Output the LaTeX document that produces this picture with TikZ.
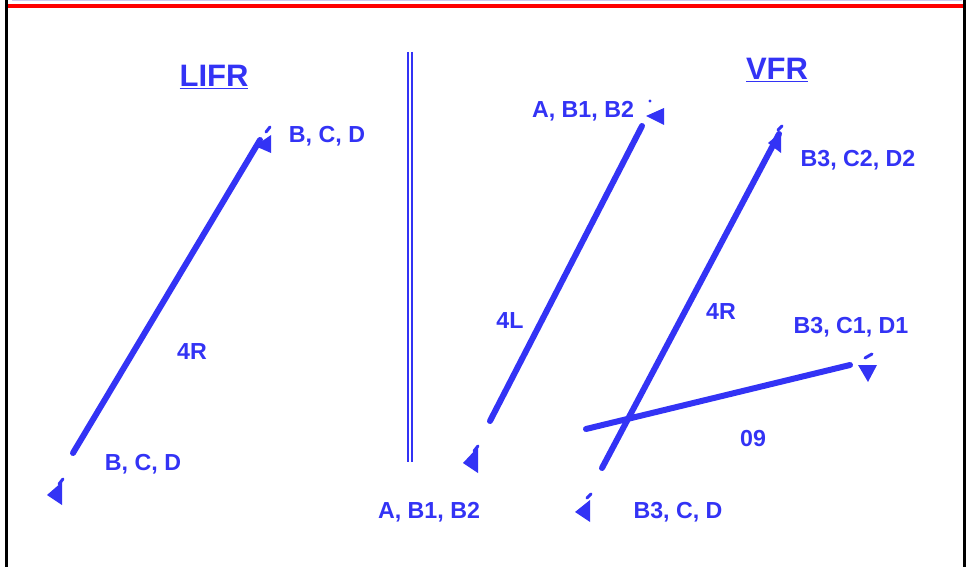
\documentclass[tikz,border=0pt]{standalone}
\usepackage{fontspec}
\setmainfont{Liberation Sans}
\usetikzlibrary{calc}
\definecolor{rwyblue}{HTML}{3333F5}
\definecolor{framered}{HTML}{FF0000}
\definecolor{lavender}{HTML}{CCCCF0}
\tikzset{
  rwy/.style={line width=6pt,rwyblue,line cap=round},
  endtick/.style={line width=3pt,rwyblue,line cap=round},
  endmark/.style={fill=rwyblue,draw=none},
  lbl/.style={text=rwyblue,font=\fontsize{23.2}{27}\selectfont\bfseries,inner sep=0pt},
  ttl/.style={text=rwyblue,font=\fontsize{31}{35}\selectfont\bfseries,inner sep=0pt},
  sep/.style={line width=2.2pt,rwyblue}
}

\begin{document}
\begin{tikzpicture}[x=1pt,y=-1pt]
    \useasboundingbox (0,0) rectangle (966,567);
    \draw[lavender,line width=1pt] (12,0.5) -- (962,0.5);
    \draw[framered,line width=4pt] (7,6) -- (963,6);
    \draw[black,line width=3pt] (6,0) -- (6,567);
    \draw[black,line width=3pt] (964.5,0) -- (964.5,567);
    \draw[sep] (408,52) -- (408,462);
    \draw[sep] (412,52) -- (412,462);
    \node[ttl] (lifr) at (214,77) {\underline{LIFR}};
    \node[ttl] (vfr) at (777,70) {\underline{VFR}};
    \coordinate (l4rS) at (73,453); \coordinate (l4rN) at (260,140);
    \coordinate (v4lS) at (490,421); \coordinate (v4lN) at (642,126);
    \coordinate (v4rS) at (602,468); \coordinate (v4rN) at (779,134);
    \coordinate (v09W) at (586,429); \coordinate (v09E) at (850,365);
    \draw[rwy] (l4rS) -- (l4rN);
    \draw[rwy] (v4lS) -- (v4lN);
    \draw[rwy] (v4rS) -- (v4rN);
    \draw[rwy] (v09W) -- (v09E);
    \fill[endmark] (47,495) -- (62,482) -- (62,505) -- cycle;
    \draw[endtick] (59,484) -- (63,479);
    \fill[endmark] (255,146) -- (271,135) -- (271,153) -- cycle;
    \draw[endtick] (266,132) -- (270,127);
    \fill[endmark] (646,116) -- (664,108) -- (664,125) -- cycle;
    \fill[endmark] (650,101) circle (1.6pt);
    \fill[endmark] (463,463) -- (478,447) -- (478,473) -- cycle;
    \draw[endtick] (474,451) -- (478,446);
    \fill[endmark] (575,512) -- (590,500) -- (590,522) -- cycle;
    \draw[endtick] (587,498) -- (591,494);
    \fill[endmark] (768,143) -- (781,132) -- (781,153) -- cycle;
    \draw[endtick] (778,130) -- (782,126);
    \fill[endmark] (858,365) -- (877,365) -- (868,382) -- cycle;
    \draw[endtick] (865,358) -- (872,354);
    \node[lbl] (lN) at (327,136) {B, C, D};
    \node[lbl] (lS) at (143,464) {B, C, D};
    \node[lbl] (l4r) at (192,352) {4R};
    \node[lbl] (v4lNt) at (583,111) {A, B1, B2};
    \node[lbl] (v4lSt) at (429,512) {A, B1, B2};
    \node[lbl] (v4l) at (510,321) {4L};
    \node[lbl] (v4rNt) at (858,160) {B3, C2, D2};
    \node[lbl] (v4rSt) at (678,512) {B3, C, D};
    \node[lbl] (v4r) at (721,312) {4R};
    \node[lbl] (v09Et) at (851,327) {B3, C1, D1};
    \node[lbl] (v09) at (753,439) {09};
\end{tikzpicture}
\end{document}
